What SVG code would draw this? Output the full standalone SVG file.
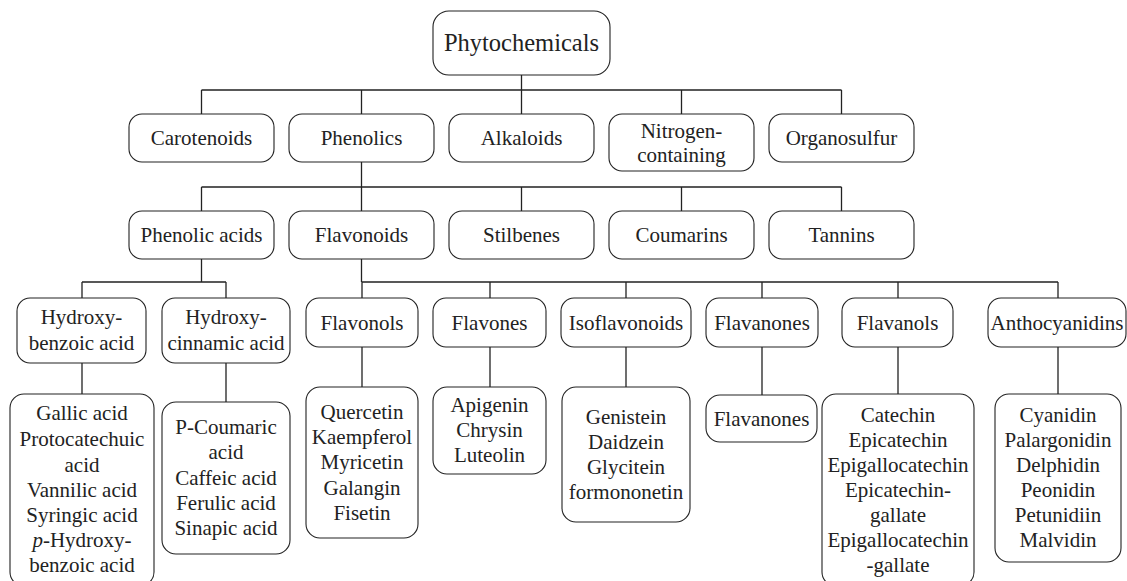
<svg xmlns="http://www.w3.org/2000/svg" width="1127" height="581" viewBox="0 0 1127 581" font-family="Liberation Serif, Times New Roman, DejaVu Serif, serif">
<style>
.b{fill:#fff;stroke:#222;stroke-width:1.1}
.c{fill:none;stroke:#222;stroke-width:1.3}
text{font-size:21px;fill:#222;text-anchor:middle;dominant-baseline:central}
.t{font-size:24.5px}
</style>
<rect width="1127" height="581" fill="#fff"/>
<g id="connectors" class="c">
<path d="M521.5 75V90M201.5 90H841.5M201.5 90V114M361.5 90V114M521.5 90V114M681.5 90V114M841.5 90V114"/>
<path d="M361.5 162V187M201.5 187H841.5M201.5 187V211M361.5 187V211M521.5 187V211M681.5 187V211M841.5 187V211"/>
<path d="M201.5 259V282M82 282H226M82 282V298M226 282V298"/>
<path d="M361.5 259V282M361.5 282H1058M362 282V298M490 282V298M626 282V298M762 282V298M898 282V298M1058 282V298"/>
<path d="M82 363V394M226 363V402M362 347V387M490 347V387M626 347V387M762 347V395M898 347V394M1058 347V394"/>
</g>
<g id="phytochemicals"><rect class="b" x="433" y="11" width="177" height="64" rx="16"/><text class="t" x="521.5" y="42">Phytochemicals</text></g>
<g id="carotenoids"><rect class="b" x="129" y="114" width="145" height="48" rx="13"/><text x="201.5" y="138">Carotenoids</text></g>
<g id="phenolics"><rect class="b" x="289" y="114" width="145" height="48" rx="13"/><text x="361.5" y="138">Phenolics</text></g>
<g id="alkaloids"><rect class="b" x="449" y="114" width="145" height="48" rx="13"/><text x="521.5" y="138">Alkaloids</text></g>
<g id="nitrogen"><rect class="b" x="609" y="114" width="145" height="57" rx="13"/><text x="681.5" y="131">Nitrogen-</text><text x="681.5" y="155">containing</text></g>
<g id="organosulfur"><rect class="b" x="769" y="114" width="145" height="48" rx="13"/><text x="841.5" y="138">Organosulfur</text></g>
<g id="phenolic-acids"><rect class="b" x="129" y="211" width="145" height="48" rx="13"/><text x="201.5" y="235">Phenolic acids</text></g>
<g id="flavonoids"><rect class="b" x="289" y="211" width="145" height="48" rx="13"/><text x="361.5" y="235">Flavonoids</text></g>
<g id="stilbenes"><rect class="b" x="449" y="211" width="145" height="48" rx="13"/><text x="521.5" y="235">Stilbenes</text></g>
<g id="coumarins"><rect class="b" x="609" y="211" width="145" height="48" rx="13"/><text x="681.5" y="235">Coumarins</text></g>
<g id="tannins"><rect class="b" x="769" y="211" width="145" height="48" rx="13"/><text x="841.5" y="235">Tannins</text></g>
<g id="hydroxybenzoic"><rect class="b" x="17" y="298" width="129" height="65" rx="13"/><text x="81.5" y="317">Hydroxy-</text><text x="81.5" y="343">benzoic acid</text></g>
<g id="hydroxycinnamic"><rect class="b" x="162" y="298" width="128" height="65" rx="13"/><text x="226" y="317">Hydroxy-</text><text x="226" y="343">cinnamic acid</text></g>
<g id="flavonols"><rect class="b" x="306" y="298" width="112" height="49" rx="13"/><text x="362" y="322.5">Flavonols</text></g>
<g id="flavones"><rect class="b" x="433" y="298" width="113" height="49" rx="13"/><text x="489.5" y="322.5">Flavones</text></g>
<g id="isoflavonoids"><rect class="b" x="561" y="298" width="130" height="49" rx="13"/><text x="626" y="322.5">Isoflavonoids</text></g>
<g id="flavanones"><rect class="b" x="706" y="298" width="112" height="49" rx="13"/><text x="762" y="322.5">Flavanones</text></g>
<g id="flavanols"><rect class="b" x="842" y="298" width="111" height="49" rx="13"/><text x="897.5" y="322.5">Flavanols</text></g>
<g id="anthocyanidins"><rect class="b" x="988" y="298" width="138" height="49" rx="13"/><text x="1057" y="322.5">Anthocyanidins</text></g>
<g id="hydroxybenzoic-list"><rect class="b" x="10" y="394" width="144" height="192" rx="14"/>
<text x="82" y="413">Gallic acid</text><text x="82" y="439">Protocatechuic</text><text x="82" y="464.5">acid</text><text x="82" y="490">Vannilic acid</text><text x="82" y="515">Syringic acid</text><text x="82" y="540"><tspan font-style="italic">p</tspan>-Hydroxy-</text><text x="82" y="565">benzoic acid</text></g>
<g id="hydroxycinnamic-list"><rect class="b" x="162" y="402" width="128" height="152" rx="14"/>
<text x="226" y="427">P-Coumaric</text><text x="226" y="452">acid</text><text x="226" y="478">Caffeic acid</text><text x="226" y="503">Ferulic acid</text><text x="226" y="528">Sinapic acid</text></g>
<g id="flavonols-list"><rect class="b" x="306" y="387" width="112" height="151" rx="14"/>
<text x="362" y="412">Quercetin</text><text x="362" y="437">Kaempferol</text><text x="362" y="462">Myricetin</text><text x="362" y="488">Galangin</text><text x="362" y="513">Fisetin</text></g>
<g id="flavones-list"><rect class="b" x="433" y="387" width="113" height="87" rx="14"/>
<text x="489.5" y="405">Apigenin</text><text x="489.5" y="430">Chrysin</text><text x="489.5" y="455">Luteolin</text></g>
<g id="isoflavonoids-list"><rect class="b" x="562" y="387" width="128" height="135" rx="14"/>
<text x="626" y="417">Genistein</text><text x="626" y="442">Daidzein</text><text x="626" y="467">Glycitein</text><text x="626" y="492">formononetin</text></g>
<g id="flavanones-list"><rect class="b" x="706" y="395" width="111" height="47" rx="14"/>
<text x="761.5" y="418.5">Flavanones</text></g>
<g id="flavanols-list"><rect class="b" x="822" y="394" width="152" height="192" rx="14"/>
<text x="898" y="415">Catechin</text><text x="898" y="440">Epicatechin</text><text x="898" y="465">Epigallocatechin</text><text x="898" y="490">Epicatechin-</text><text x="898" y="515">gallate</text><text x="898" y="540">Epigallocatechin</text><text x="898" y="565">-gallate</text></g>
<g id="anthocyanidins-list"><rect class="b" x="995" y="394" width="126" height="168" rx="14"/>
<text x="1058" y="415">Cyanidin</text><text x="1058" y="440">Palargonidin</text><text x="1058" y="465">Delphidin</text><text x="1058" y="490">Peonidin</text><text x="1058" y="515">Petunidiin</text><text x="1058" y="540">Malvidin</text></g>
</svg>
